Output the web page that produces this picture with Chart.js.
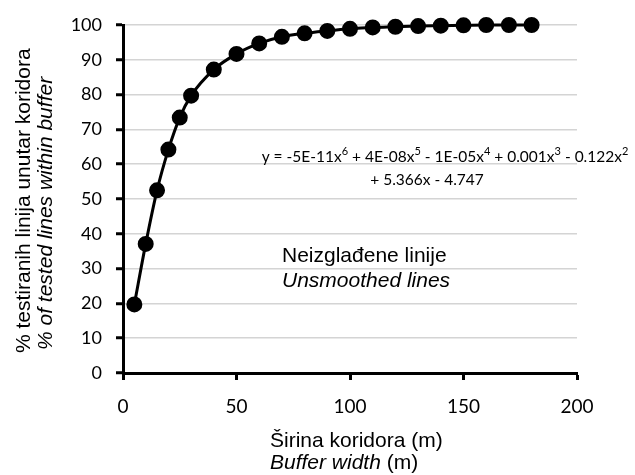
<!DOCTYPE html>
<html>
<head>
<meta charset="utf-8">
<script src="https://cdn.jsdelivr.net/npm/chart.js@4.4.0/dist/chart.umd.min.js"></script>
<style>
body{margin:0;background:#fff;}
canvas{display:block;}
</style>
</head>
<body>
<canvas id="bufferChart" width="635" height="475"></canvas>
<script>
// ================= Data =================
const bufferWidths=[5,10,15,20,25,30,40,50,60,70,80,90,100,110,120,130,140,150,160,170,180];
const linesWithin=[19.7,37.1,52.5,64.2,73.4,79.7,87.2,91.7,94.7,96.6,97.6,98.3,98.9,99.3,99.5,99.7,99.8,99.9,100,100,100];
const xTicks=[0,50,100,150,200];
const yTicks=[0,10,20,30,40,50,60,70,80,90,100];

const equationLine1=[
    {t:'y = -5E-11x'},{t:'6',sup:true},{t:' + 4E-08x'},{t:'5',sup:true},{t:' - 1E-05x'},{t:'4',sup:true},
    {t:' + 0.001x'},{t:'3',sup:true},{t:' - 0.122x'},{t:'2',sup:true}
];
const equationLine2=[{t:'+ 5.366x - 4.747'}];

// ================= Text helpers =================
const ARIAL='"Liberation Sans"';
function fontOf(seg,size,family){
    const s=seg.sup?Math.round(size*0.68):size;
    return (seg.italic?'italic ':'')+s+'px '+family;
}
// align: 'center' -> x is middle, 'left' -> x is start
function drawRich(ctx,segs,x,cy,size,family,align){
    let w=0;
    segs.forEach(s=>{ ctx.font=fontOf(s,size,family); w+=ctx.measureText(s.t).width; });
    if(align!=='left') x-=w/2;
    ctx.textBaseline='middle'; ctx.textAlign='left';
    segs.forEach(s=>{
        ctx.font=fontOf(s,size,family);
        ctx.fillText(s.t,x,s.sup?cy-size*0.38:cy);
        x+=ctx.measureText(s.t).width;
    });
}

const textPlugin={
    id:'textPlugin',
    afterDraw(chart){
        const ctx=chart.ctx;
        ctx.save(); ctx.fillStyle='#000';
        // equation
        drawRich(ctx,equationLine1,445,157,15.5,'Lato');
        drawRich(ctx,equationLine2,427,180,15.5,'Lato');
        // series label
        drawRich(ctx,[{t:'Neizglađene linije'}],282,256,21,ARIAL,'left');
        drawRich(ctx,[{t:'Unsmoothed lines',italic:true}],282,281,21,ARIAL,'left');
        // x title
        drawRich(ctx,[{t:'Širina koridora (m)'}],270,441,21,ARIAL,'left');
        drawRich(ctx,[{t:'Buffer width',italic:true},{t:' (m)'}],270,463,21,ARIAL,'left');
        // y title
        ctx.translate(0,353);
        ctx.rotate(-Math.PI/2);
        drawRich(ctx,[{t:'% testiranih linija unutar koridora'}],0,24,21,ARIAL,'left');
        drawRich(ctx,[{t:'% of tested lines within buffer',italic:true}],3,46,21,ARIAL,'left');
        ctx.restore();
    }
};

// ================= Chart =================
const ctx=document.getElementById('bufferChart').getContext('2d');
new Chart(ctx,{
    type:'line',
    data:{datasets:[{
        data:bufferWidths.map((x,i)=>({x:x,y:linesWithin[i]})),
        borderColor:'#000',borderWidth:3,tension:0.4,cubicInterpolationMode:'monotone',
        pointRadius:6.5,pointHoverRadius:6.5,pointBackgroundColor:'#000',pointBorderColor:'#000',
        clip:false
    }]},
    options:{
        responsive:false,animation:false,
        layout:{padding:{top:25,right:58,left:0,bottom:0}},
        plugins:{legend:{display:false},tooltip:{enabled:false}},
        scales:{
            x:{
                type:'linear',min:0,max:200,
                afterBuildTicks:s=>{ s.ticks=xTicks.map(v=>({value:v})); },
                afterFit:s=>{ s.height=102; },
                grid:{drawOnChartArea:false,tickLength:7,tickWidth:3,tickColor:'#000'},
                border:{color:'#000',width:3},
                ticks:{color:'#000',font:{family:'Lato',size:19},padding:15,maxRotation:0}
            },
            y:{
                min:0,max:100,
                afterBuildTicks:s=>{ s.ticks=yTicks.map(v=>({value:v})); },
                afterFit:s=>{ s.width=123; },
                grid:{color:'#d4d4d4',lineWidth:1.5,tickLength:7,tickWidth:3,tickColor:'#000'},
                border:{color:'#000',width:3},
                ticks:{color:'#000',font:{family:'Lato',size:18},padding:14}
            }
        }
    },
    plugins:[textPlugin]
});
</script>
</body>
</html>
